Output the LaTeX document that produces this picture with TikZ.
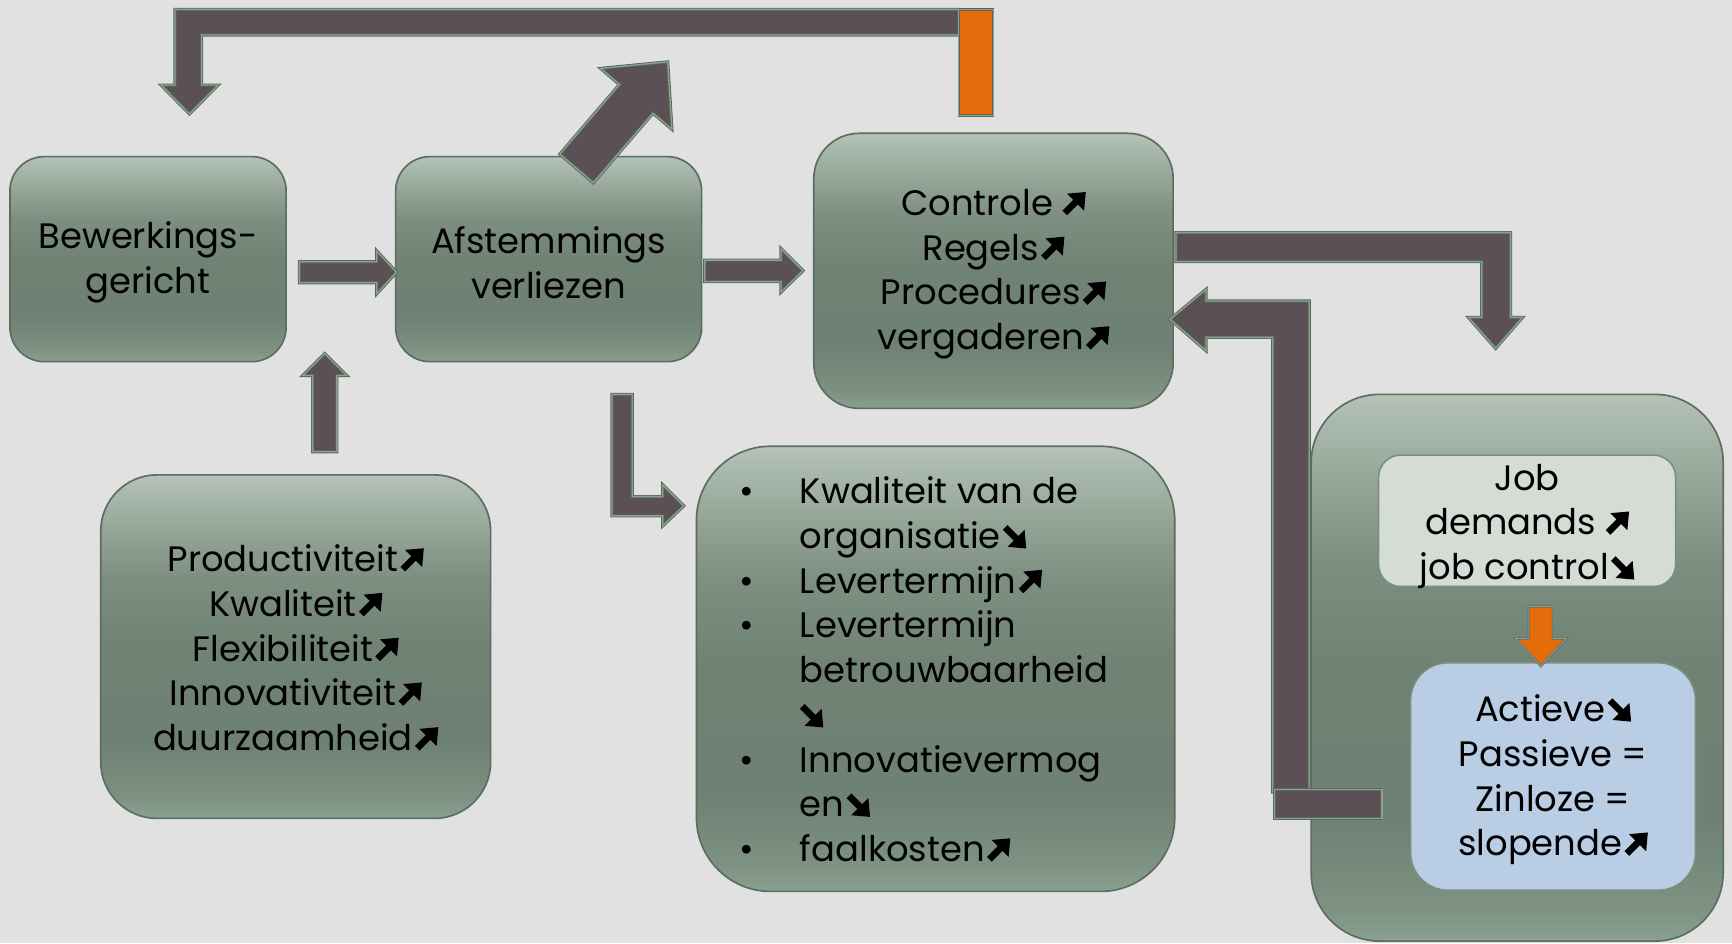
\documentclass[tikz,border=0pt]{standalone}
\usepackage{fontspec}
\setmainfont{Poppins}
\newsavebox\upbox
\newsavebox\dnbox
\newcommand\arrU{\hspace{2pt}\usebox\upbox}
\newcommand\arrD{\hspace{2pt}\usebox\dnbox}
\newcommand\gpt[2]{\pgfpoint{#1pt}{#2pt}}
\definecolor{bgc}{HTML}{E1E1E1}
\definecolor{gtop}{HTML}{B5C2B7}
\definecolor{gup}{HTML}{A0B0A3}
\definecolor{gup2}{HTML}{7D8F81}
\definecolor{gmid}{HTML}{6F8274}
\definecolor{glow}{HTML}{6E8174}
\definecolor{glow2}{HTML}{7D9283}
\definecolor{gbot}{HTML}{8AA091}
\definecolor{boxedge}{HTML}{5A6D5E}
\definecolor{afill}{HTML}{5A5055}
\definecolor{aedgeD}{HTML}{56695A}
\definecolor{aedgeL}{HTML}{8EA190}
\definecolor{orng}{HTML}{E46C0A}
\definecolor{jobfill}{HTML}{D5DCD6}
\definecolor{bluefill}{HTML}{B9CDE4}
\definecolor{lightedge}{HTML}{7C8E7F}
\pgfdeclareverticalshading{boxshade}{100bp}{color(0bp)=(gbot); color(25bp)=(gbot); color(28bp)=(glow2); color(36bp)=(glow); color(50bp)=(gmid); color(60bp)=(gup2); color(70bp)=(gup); color(75bp)=(gtop); color(100bp)=(gtop)}
\tikzset{
  gbox/.style={draw=boxedge, line width=1.5pt, shade, shading=boxshade, inner sep=0pt},
  flatbox/.style={draw=lightedge, line width=1.5pt, inner sep=0pt},
  txt/.style={font=\fontsize{32}{40.5}\selectfont, align=center, inner sep=0pt, text=black, yshift=-3pt},
  barrow/.style={fill=afill, draw=aedgeD, double=aedgeL, line width=0.8pt, double distance=1.2pt, line join=miter},
  oarrow/.style={fill=orng, draw=aedgeD, double=aedgeL, line width=0.6pt, double distance=0.9pt, line join=miter},
  listtxt/.style={font=\fontsize{32}{40.5}\selectfont, align=left, inner sep=0pt, text=black}
}
\begin{document}
\sbox\upbox{\begin{pgfpicture}\pgfsetfillcolor{black}%
\pgfpathmoveto{\gpt{-0.12}{4.12}}\pgfpathlineto{\gpt{9.63}{13.87}}\pgfpathlineto{\gpt{4}{19.5}}%
\pgfpathlineto{\gpt{21}{21}}\pgfpathlineto{\gpt{19.5}{4}}\pgfpathlineto{\gpt{13.87}{9.63}}%
\pgfpathlineto{\gpt{4.12}{-0.12}}\pgfpathclose\pgfusepath{fill}\end{pgfpicture}}%
\sbox\dnbox{\begin{pgfpicture}\pgfsetfillcolor{black}%
\pgfpathmoveto{\gpt{-0.12}{16.88}}\pgfpathlineto{\gpt{9.63}{7.13}}\pgfpathlineto{\gpt{4}{1.5}}%
\pgfpathlineto{\gpt{21}{0}}\pgfpathlineto{\gpt{19.5}{17}}\pgfpathlineto{\gpt{13.87}{11.37}}%
\pgfpathlineto{\gpt{4.12}{21.12}}\pgfpathclose\pgfusepath{fill}\end{pgfpicture}}%
\begin{tikzpicture}[x=1pt,y=-1pt]
\useasboundingbox (0,0) rectangle (1568,854);
\fill[bgc] (0,0) rectangle (1568,854);

% top feedback arrow (box3 -> box1)
\draw[barrow] (868,8.5) -- (158.4,8.5) -- (158.4,77) -- (145.8,77) -- (171.5,103.2)
  -- (197.5,77) -- (182.6,77) -- (182.6,31.7) -- (868,31.7) -- cycle;
\draw[oarrow] (868,8.5) rectangle (899,104.5);

% boxes
\node[gbox, minimum width=250pt, minimum height=185.6pt, rounded corners=31pt] (b1) at (134,234.6) {};
\node[txt] (t1) at (b1) {Bewerkings-\\gericht};
\node[gbox, minimum width=277pt, minimum height=185.6pt, rounded corners=31pt] (b2) at (496.7,234.6) {};
\node[txt] (t2) at (b2) {Afstemmings\\verliezen};
\node[gbox, minimum width=325.3pt, minimum height=249pt, rounded corners=41pt] (b3) at (899.4,245.2) {};
\node[txt] (t3) at (b3) {Controle \usebox\upbox\\Regels\arrU\\Procedures\arrU\\vergaderen\arrU};
\node[gbox, minimum width=353pt, minimum height=311pt, rounded corners=51pt] (b4) at (267.7,585.4) {};
\node[txt, yshift=2pt] (t4) at (b4) {Productiviteit\arrU\\Kwaliteit\arrU\\Flexibiliteit\arrU\\Innovativiteit\arrU\\duurzaamheid\arrU};
\node[gbox, minimum width=433pt, minimum height=403pt, rounded corners=67pt] (b5) at (847,605.5) {};
\node[listtxt, anchor=west] (t5) at (669,606) {%
\makebox[55pt][l]{•}Kwaliteit van de\\
\hspace*{55pt}organisatie\arrD\\
\makebox[55pt][l]{•}Levertermijn\arrU\\
\makebox[55pt][l]{•}Levertermijn\\
\hspace*{55pt}betrouwbaarheid\\
\hspace*{55pt}\usebox\dnbox\\
\makebox[55pt][l]{•}Innovatievermog\\
\hspace*{55pt}en\arrD\\
\makebox[55pt][l]{•}faalkosten\arrU};
\node[gbox, minimum width=373pt, minimum height=495pt, rounded corners=62pt] (b6) at (1373.5,604.5) {};

% straight block arrows
\draw[barrow] (271,237) -- (341,237) -- (341,227) -- (359,246.5) -- (341,266) -- (341,256) -- (271,256) -- cycle;
\draw[barrow] (638,235.5) -- (707,235.5) -- (707,225) -- (727,245) -- (707,264.5) -- (707,255) -- (638,255) -- cycle;
\draw[barrow] (283,409) -- (283,340) -- (274,340) -- (294,320) -- (314,340) -- (305,340) -- (305,409) -- cycle;
% box3 -> job area
\draw[barrow] (1064.6,210.6) -- (1367.6,210.6) -- (1367.6,287.3) -- (1378.4,287.3) -- (1354,315.4)
  -- (1329.3,287.3) -- (1341.4,287.3) -- (1341.4,236.9) -- (1064.6,236.9) -- cycle;
% below box2 -> box5
\draw[barrow] (554,357) -- (572.4,357) -- (572.4,449.6) -- (600,449.6) -- (600,439) -- (619,458)
  -- (600,476) -- (600,467) -- (554,467) -- cycle;
% diagonal arrow out of box2
\draw[barrow] (506.8,139.5) -- (560.8,76.5) -- (543.7,61.9) -- (604.5,56) -- (608.3,117.1)
  -- (591.2,102.5) -- (537.2,165.5) -- cycle;
% feedback from job area -> box3
\draw[barrow] (1059.2,289.1) -- (1091.8,261.9) -- (1091.8,272.5) -- (1185.3,272.5) -- (1185.3,717)
  -- (1152.2,717) -- (1152.2,305.4) -- (1091.8,305.4) -- (1091.8,317.5) -- cycle;
\draw[barrow] (1154,715) rectangle (1251,741);

% inner boxes
\node[flatbox, fill=jobfill, minimum width=269pt, minimum height=119pt, rounded corners=20pt] (b7) at (1382.5,471.5) {};
\node[txt, yshift=-2pt] (t7) at (b7) {Job\\demands \usebox\upbox\\job control\arrD};
\node[flatbox, fill=bluefill, minimum width=258pt, minimum height=206pt, rounded corners=34pt] (b8) at (1406,703) {};
\node[txt] (t8) at (b8) {Actieve\arrD\\Passieve =\\Zinloze =\\slopende\arrU};
\draw[oarrow] (1384,549) -- (1406,549) -- (1406,578) -- (1418,578) -- (1395,603) -- (1372,578) -- (1384,578) -- cycle;
\end{tikzpicture}
\end{document}
